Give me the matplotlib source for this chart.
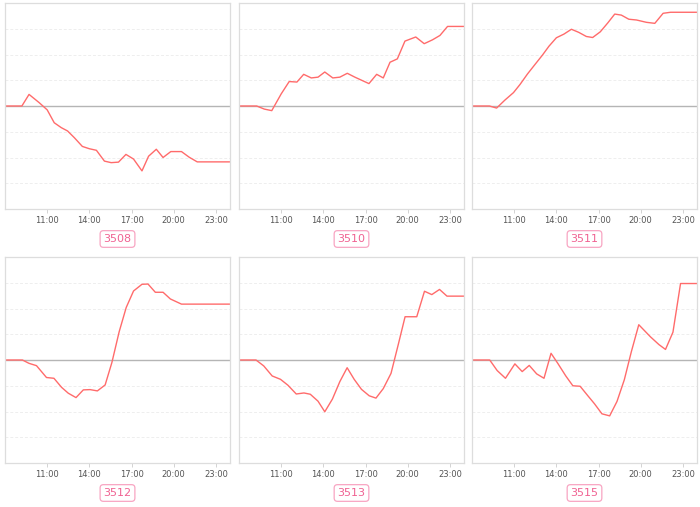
import numpy as np
import matplotlib
matplotlib.use("Agg")
import matplotlib.pyplot as plt

# hour of day -> value
t_3508 = [8.0, 9.2, 9.71, 10.43, 11.0, 11.5, 12.0, 12.45, 12.93, 13.5, 14.0, 14.5, 15.07, 15.55,
          16.07, 16.6, 17.14, 17.74, 18.21, 18.76, 19.24, 19.79, 20.55, 21.1, 21.67, 24.0]
v_3508 = [0, 0, 0.45, 0.13, -0.15, -0.65, -0.84, -0.97, -1.23, -1.57, -1.66, -1.72, -2.14, -2.2,
          -2.18, -1.88, -2.06, -2.52, -1.95, -1.68, -2.0, -1.77, -1.77, -1.99, -2.17, -2.17]

t_3510 = [8.0, 9.26, 9.8, 10.33, 11.0, 11.57, 12.12, 12.6, 13.14, 13.62, 14.1, 14.67, 15.17, 15.7,
          16.24, 16.76, 17.24, 17.79, 18.26, 18.74, 19.26, 19.8, 20.57, 21.17, 21.76, 22.29, 22.83, 24.0]
v_3510 = [0, 0, -0.12, -0.18, 0.47, 0.95, 0.93, 1.23, 1.09, 1.12, 1.32, 1.09, 1.12, 1.27,
          1.12, 0.99, 0.87, 1.23, 1.09, 1.7, 1.83, 2.52, 2.68, 2.42, 2.57, 2.74, 3.09, 3.09]

t_3511 = [8.0, 9.24, 9.75, 10.34, 10.95, 11.42, 11.94, 12.46, 13.0, 13.47, 14.0, 14.53, 15.07, 15.59,
          16.13, 16.58, 17.12, 17.66, 18.15, 18.62, 19.15, 19.7, 20.4, 21.0, 21.59, 22.12, 24.0]
v_3511 = [0, 0, -0.08, 0.23, 0.52, 0.84, 1.24, 1.6, 1.97, 2.32, 2.65, 2.79, 2.98, 2.86,
          2.7, 2.66, 2.88, 3.23, 3.57, 3.53, 3.37, 3.34, 3.25, 3.21, 3.6, 3.64, 3.64]

t_3512 = [8.0, 9.24, 9.71, 10.24, 10.95, 11.48, 12.02, 12.5, 13.05, 13.57, 14.05, 14.57, 15.12,
          15.6, 16.12, 16.62, 17.14, 17.74, 18.17, 18.69, 19.24, 19.76, 20.55, 24.0]
v_3512 = [0, 0, -0.13, -0.22, -0.68, -0.71, -1.06, -1.29, -1.46, -1.16, -1.15, -1.2, -0.97,
          -0.1, 1.1, 2.04, 2.68, 2.94, 2.95, 2.63, 2.63, 2.37, 2.17, 2.17]

t_3513 = [8.0, 9.21, 9.76, 10.36, 10.95, 11.48, 12.07, 12.62, 13.07, 13.62, 14.1, 14.64, 15.17, 15.69,
          16.19, 16.71, 17.26, 17.74, 18.26, 18.81, 19.33, 19.81, 20.64, 21.19, 21.71, 22.26, 22.79, 24.0]
v_3513 = [0, 0, -0.23, -0.62, -0.75, -0.98, -1.32, -1.28, -1.33, -1.6, -2.01, -1.52, -0.84, -0.3,
          -0.75, -1.14, -1.39, -1.48, -1.11, -0.52, 0.61, 1.68, 1.68, 2.67, 2.54, 2.74, 2.48, 2.48]

t_3515 = [8.0, 9.26, 9.79, 10.38, 11.05, 11.57, 12.07, 12.6, 13.12, 13.62, 14.1, 14.67, 15.17, 15.69,
          16.21, 16.71, 17.24, 17.79, 18.31, 18.83, 19.33, 19.86, 20.69, 21.29, 21.76, 22.29, 22.83, 24.0]
v_3515 = [0, 0, -0.41, -0.71, -0.15, -0.45, -0.21, -0.54, -0.71, 0.26, -0.13, -0.62, -1.0, -1.02,
          -1.37, -1.7, -2.09, -2.17, -1.61, -0.77, 0.32, 1.37, 0.9, 0.6, 0.41, 1.08, 2.97, 2.97]

names = ["3508", "3510", "3511", "3512", "3513", "3515"]
series = [(t_3508, v_3508), (t_3510, v_3510), (t_3511, v_3511),
          (t_3512, v_3512), (t_3513, v_3513), (t_3515, v_3515)]

tick_hours = [11, 14, 17, 20, 23]
tick_labels = ["11:00", "14:00", "17:00", "20:00", "23:00"]

W, H = 700, 507
fig = plt.figure(figsize=(W / 100, H / 100), dpi=100)

col_x = [5, 239, 472]
row_y = [3, 257]
aw, ah = 225, 206

for k, (name, (t, v)) in enumerate(zip(names, series)):
    r, c = divmod(k, 3)
    x0, y0 = col_x[c], row_y[r]
    ax = fig.add_axes([x0 / W, 1 - (y0 + ah) / H, aw / W, ah / H])
    ax.set_xlim(8, 24)
    ax.set_ylim(-4, 4)
    for g in [-3, -2, -1, 1, 2, 3]:
        ax.axhline(g, color="#eeeeee", lw=0.7, ls=(0, (3, 2)), zorder=0)
    ax.axhline(0, color="#b5b5b5", lw=1.0, zorder=1)
    ax.plot(t, v, color="#ff6b6b", lw=1.0, zorder=2)

    ax.set_yticks([])
    ax.set_xticks(tick_hours)
    ax.set_xticklabels(tick_labels, fontsize=6, color="#555555")
    ax.tick_params(axis="x", length=3, width=0.6, color="#cccccc", pad=2)
    for s in ax.spines.values():
        s.set_color("#dddddd")
        s.set_linewidth(0.9)

    # boxed label under each panel
    cx = (x0 + aw / 2) / W
    cy = 1 - (y0 + ah + 30) / H
    fig.text(cx, cy, name, ha="center", va="center", fontsize=8, color="#f06292",
             bbox=dict(boxstyle="round,pad=0.3,rounding_size=0.3", fc="white",
                       ec="#f8a5c2", lw=0.9))

fig.savefig("out.png", dpi=100)
